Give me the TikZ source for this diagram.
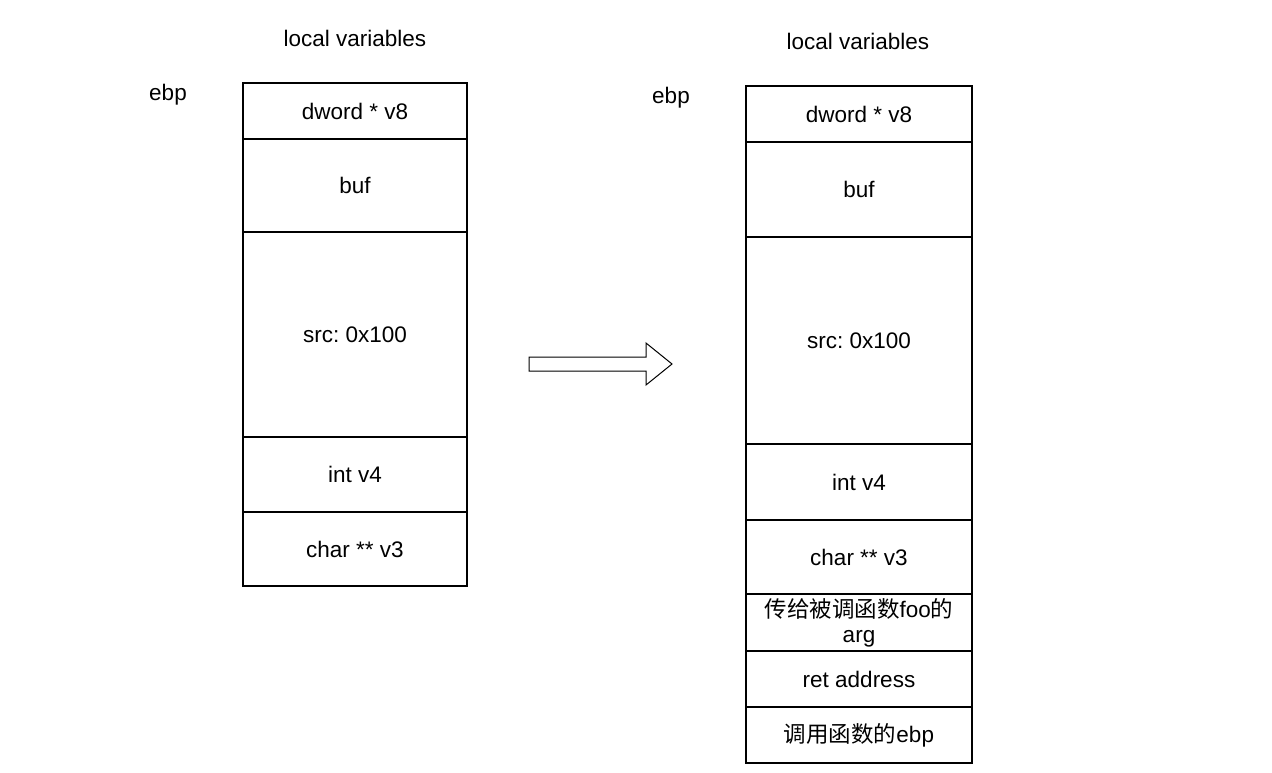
\documentclass[tikz,border=0pt]{standalone}
\usepackage{fontspec}
\setmainfont{Liberation Sans}
\newfontfamily\cjk{Noto Sans CJK SC}
\frenchspacing
\begin{document}
\begin{tikzpicture}[x=1pt,y=-1pt,
  cell/.style={draw=black,line width=1.2pt,minimum width=224pt,inner sep=0pt,align=center,font=\fontsize{22.5}{25}\selectfont},
  lbl/.style={font=\fontsize{22.5}{25}\selectfont,inner sep=0pt}]
\useasboundingbox (0,0) rectangle (1272,773);
% left stack
\node[cell,minimum height=56pt]  (l1) at (355,111) {dword * v8};
\node[cell,minimum height=93pt]  (l2) at (355,185.5) {buf};
\node[cell,minimum height=205pt] (l3) at (355,334.5) {src: 0x100};
\node[cell,minimum height=75pt]  (l4) at (355,474.5) {int v4};
\node[cell,minimum height=74pt]  (l5) at (355,549) {char ** v3};
\node[lbl] (lt) at (355,38) {local variables};
\node[lbl] (le) at (168,95) {ebp};
% right stack
\node[cell,minimum width=226pt,minimum height=56pt]  (r1) at (859,114) {dword * v8};
\node[cell,minimum width=226pt,minimum height=95pt]  (r2) at (859,189.5) {buf};
\node[cell,minimum width=226pt,minimum height=207pt] (r3) at (859,340.5) {src: 0x100};
\node[cell,minimum width=226pt,minimum height=76pt]  (r4) at (859,482) {int v4};
\node[cell,minimum width=226pt,minimum height=74pt]  (r5) at (859,557) {char ** v3};
\node[cell,minimum width=226pt,minimum height=57pt]  (r6) at (859,622.5) {{\cjk 传给被调函数}foo{\cjk 的}\\arg};
\node[cell,minimum width=226pt,minimum height=56pt]  (r7) at (859,679) {ret address};
\node[cell,minimum width=226pt,minimum height=56pt]  (r8) at (859,735) {{\cjk 调用函数的}ebp};
\node[lbl] (rt) at (858,41) {local variables};
\node[lbl] (re) at (671,98) {ebp};
% block arrow
\draw[line width=1pt,fill=white] (529,357) -- (646,357) -- (646,343) -- (672,364) -- (646,385) -- (646,371) -- (529,371) -- cycle;
\end{tikzpicture}
\end{document}
